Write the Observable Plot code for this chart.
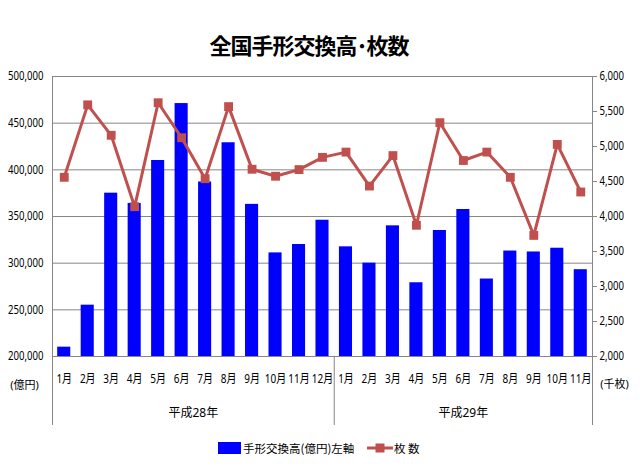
<!DOCTYPE html>
<html>
<head>
<meta charset="utf-8">
<script src="https://cdn.jsdelivr.net/npm/d3@7"></script>
<script src="https://cdn.jsdelivr.net/npm/@observablehq/plot@0.6"></script>
<style>
  html, body { margin: 0; padding: 0; background: #fff; }
  #wrap { position: relative; width: 640px; height: 469px; overflow: hidden; font-family: "Noto Sans", "Noto Sans CJK JP", sans-serif; }
  #title { position: absolute; left: 0; top: 28px; width: 618px; text-align: center; font-family: "Noto Sans CJK JP", sans-serif; font-weight: bold; font-size: 22px; line-height: 32px; color: #000; letter-spacing: -1px; }
  #legend { position: absolute; left: 0; top: 438px; width: 640px; height: 20px; font-family: "Noto Sans CJK JP", sans-serif; font-size: 11.5px; color: #000; }
  #legend .it { position: absolute; top: 0; display: flex; align-items: center; height: 20px; }
  #chart { position: absolute; left: 0; top: 0; }
  #chart svg text { font-family: "Noto Sans", "Noto Sans CJK JP", sans-serif; }
</style>
</head>
<body>
<div id="wrap">
  <div id="chart"></div>
  <div id="title">全国手形交換高･枚数</div>
  <div id="legend">
    <div class="it" style="left:218px;">
      <svg width="23" height="12"><rect x="0" y="0" width="23" height="12" fill="#0000ff"/></svg>
      <span style="margin-left:2px;">手形交換高(億円)左軸</span>
    </div>
    <div class="it" style="left:367px;">
      <svg width="26" height="12"><line x1="0" y1="6" x2="26" y2="6" stroke="#c0504d" stroke-width="3"/><rect x="8.5" y="1.5" width="9" height="9" fill="#c0504d"/></svg>
      <span style="margin-left:1px;">枚 数</span>
    </div>
  </div>
</div>
<script>
// ---- data ----
const months = ["1月","2月","3月","4月","5月","6月","7月","8月","9月","10月","11月","12月",
                "1月","2月","3月","4月","5月","6月","7月","8月","9月","10月","11月"];
const years = ["平成28年", "平成29年"];
const yearMonthCounts = [12, 11];
// 手形交換高 (億円), left axis
const amount = [210000, 255000, 375000, 364000, 410000, 471000, 387000, 429000, 363000, 311000, 320000, 346000,
                317500, 300000, 340000, 279000, 335000, 357500, 283000, 313000, 312000, 316000, 293000];
// 枚数 (千枚), right axis
const count = [4560, 5595, 5160, 4140, 5625, 5125, 4540, 5570, 4675, 4575, 4670, 4845,
               4920, 4435, 4870, 3875, 5340, 4800, 4920, 4560, 3730, 5030, 4350];
const leftTicks = [200000, 250000, 300000, 350000, 400000, 450000, 500000];
const rightTicks = [2000, 2500, 3000, 3500, 4000, 4500, 5000, 5500, 6000];
const leftDomain = [200000, 500000];
const rightDomain = [2000, 6000];

// ---- helpers ----
const toLeft = v => leftDomain[0] + (v - rightDomain[0]) * (leftDomain[1] - leftDomain[0]) / (rightDomain[1] - rightDomain[0]);
const fromLeft = v => rightDomain[0] + (v - leftDomain[0]) * (rightDomain[1] - rightDomain[0]) / (leftDomain[1] - leftDomain[0]);
const idx = d3.range(months.length);
const fmt = d3.format(",");

// year group boundaries and centers
let acc = 0;
const yearInfo = years.map((y, k) => {
  const start = acc; acc += yearMonthCounts[k];
  return {label: y, start, end: acc, mid: (start + acc) / 2};
});
const boundaries = [0, ...yearInfo.map(d => d.end)];
const outer = [boundaries[0], boundaries[boundaries.length - 1]];
const inner = boundaries.slice(1, -1);

const chart = Plot.plot({
  width: 640,
  height: 469,
  marginTop: 76,
  marginBottom: 113,
  marginLeft: 52,
  marginRight: 48,
  style: {fontSize: "12px", background: "transparent", overflow: "visible"},
  x: {domain: [0, months.length], axis: null},
  y: {domain: leftDomain, axis: null},
  marks: [
    Plot.gridY(leftTicks, {stroke: "#868686", strokeOpacity: 1, strokeWidth: 1}),
    Plot.rectY(idx, {x1: i => i, x2: i => i + 1, y1: leftDomain[0], y2: i => amount[i], insetLeft: 5.2, insetRight: 5.2, fill: "#0000ff"}),
    Plot.ruleX(outer, {stroke: "#868686", strokeWidth: 1, insetBottom: -69}),
    Plot.ruleX(inner, {y1: leftDomain[0], y2: leftDomain[0], stroke: "#868686", strokeWidth: 1, insetBottom: -69}),
    Plot.lineY(idx, {x: i => i + 0.5, y: i => toLeft(count[i]), stroke: "#c0504d", strokeWidth: 3}),
    Plot.dot(idx, {x: i => i + 0.5, y: i => toLeft(count[i]), symbol: "square", r: 5, fill: "#c0504d", stroke: "none"}),
    Plot.axisY(leftTicks, {anchor: "left", tickSize: 0, tickPadding: 9, tickFormat: fmt, fontSize: 12, fill: "#000"}),
    Plot.axisY(rightTicks.map(toLeft), {anchor: "right", tickSize: 4, tickPadding: 3, stroke: "#868686", tickFormat: v => fmt(Math.round(fromLeft(v))), fontSize: 12, fill: "#000"}),
    Plot.text(idx, {x: i => i + 0.5, y: leftDomain[0], text: i => months[i], dy: 22, fontSize: 12.5, fill: "#000"}),
    Plot.text(yearInfo, {x: "mid", y: leftDomain[0], text: "label", dy: 57, fontSize: 12, fill: "#000"}),
    Plot.text(["(億円)"], {x: outer[0], y: leftDomain[0], text: d => d, dx: -28, dy: 29, fontSize: 11, fill: "#000"}),
    Plot.text(["(千枚)"], {x: outer[1], y: leftDomain[0], text: d => d, dx: 22, dy: 28, fontSize: 11, fill: "#000"})
  ]
});

// horizontally condense the numeric tick labels and month labels (narrow-font look)
chart.querySelectorAll("text").forEach(t => {
  const s = t.textContent.trim();
  if (!(/^[\d,]+$/.test(s) || /^\d+月$/.test(s))) return;
  const xa = t.getAttribute("x");
  let extra = "";
  if (xa != null && !isNaN(+xa)) { extra = `translate(${+xa},0) `; t.removeAttribute("x"); }
  const tr = t.getAttribute("transform") || "";
  t.setAttribute("transform", `${tr} ${extra}scale(0.8,1)`);
});
document.getElementById("chart").appendChild(chart);
</script>
</body>
</html>
